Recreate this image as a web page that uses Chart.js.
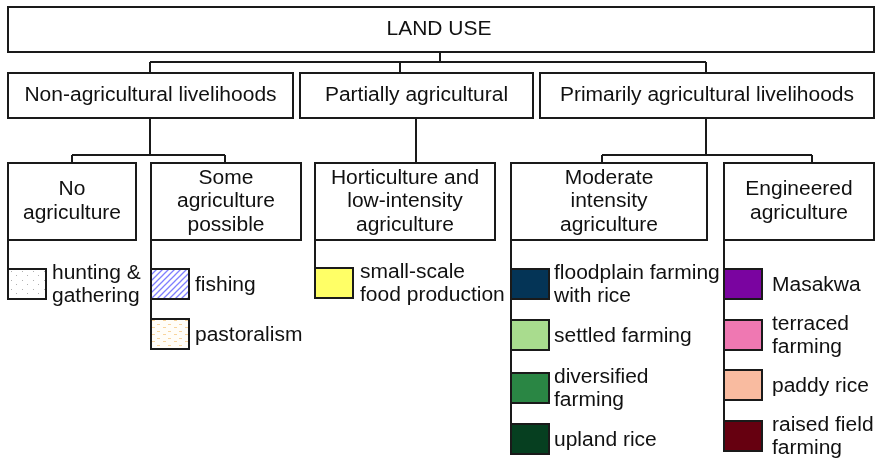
<!DOCTYPE html>
<html>
<head>
<meta charset="utf-8">
<script src="https://cdn.jsdelivr.net/npm/chart.js@4/dist/chart.umd.min.js"></script>
<style>
html,body{margin:0;padding:0;background:#fff;}
#wrap{width:876px;height:461px;}
</style>
</head>
<body>
<div id="wrap"><canvas id="c" width="876" height="461"></canvas></div>
<script>
// ---------- DATA ----------
const rootLabel = ['LAND USE'];
const groupLabels = ['Non-agricultural livelihoods', 'Partially agricultural', 'Primarily agricultural livelihoods'];
const subgroupLabels = [
  ['No', 'agriculture'],
  ['Some', 'agriculture', 'possible'],
  ['Horticulture and', 'low-intensity', 'agriculture'],
  ['Moderate', 'intensity', 'agriculture'],
  ['Engineered', 'agriculture']
];
const subgroupParent = [0, 0, 1, 2, 2];
const leafLabels = [
  [['hunting &', 'gathering']],
  [['fishing'], ['pastoralism']],
  [['small-scale', 'food production']],
  [['floodplain farming', 'with rice'], ['settled farming'], ['diversified', 'farming'], ['upland rice']],
  [['Masakwa'], ['terraced', 'farming'], ['paddy rice'], ['raised field', 'farming']]
];
const leafFills = [
  ['dots'],
  ['stripes', 'dashes'],
  ['#ffff66'],
  ['#043456', '#a9dc8e', '#2a8644', '#063f20'],
  ['#7a04a0', '#ef78b2', '#f9bba0', '#660010']
];

// ---------- LAYOUT (diagram coordinates) ----------
const LAYOUT = {
  root: { x0: 8, y0: 7, x1: 874, y1: 52 },
  rootStemX: 440,
  rootStemY: 62,
  rootDrops: [150, 400, 706],
  l2: { y0: 73, y1: 118, xs: [[8, 293], [300, 533], [540, 874]] },
  l2Stems: [150, 416, 706],
  l3Drops: [[72, 225], [416], [602, 812]],
  l2BarY: 155,
  l3: { y0: 163, y1: 240, xs: [[8, 136], [151, 301], [315, 495], [511, 707], [724, 874]] },
  swatchW: 38, swatchH: 30,
  swatchTops: [[269], [269, 319], [268], [269, 320, 373, 424], [269, 320, 370, 421]],
  textGap: [6, 6, 7, 5, 10],
  lineH: 23.5
};
const FONT_PX = 20, FONT_SX = 1.05;
const INK = '#1a1a1a';

function makePattern(kind) {
  const t = document.createElement('canvas');
  const g = t.getContext('2d');
  if (kind === 'dots') {
    t.width = 11; t.height = 9;
    g.fillStyle = '#fff'; g.fillRect(0, 0, 11, 9);
    g.fillStyle = '#b0b0b0';
    g.fillRect(3, 2, 1, 1); g.fillRect(8, 6, 1, 1);
  } else if (kind === 'stripes') {
    t.width = 6; t.height = 6;
    g.fillStyle = '#fff'; g.fillRect(0, 0, 6, 6);
    g.strokeStyle = '#7f7fff'; g.lineWidth = 1.3;
    g.beginPath();
    g.moveTo(-1, 7); g.lineTo(7, -1);
    g.moveTo(-4, 4); g.lineTo(4, -4);
    g.moveTo(2, 10); g.lineTo(10, 2);
    g.stroke();
  } else {
    t.width = 11; t.height = 7;
    g.fillStyle = '#fffdf8'; g.fillRect(0, 0, 11, 7);
    g.fillStyle = '#f8d49c';
    g.fillRect(1, 1, 3, 1); g.fillRect(6, 5, 3, 1);
  }
  return t;
}

const diagramPlugin = {
  id: 'diagram',
  afterDraw(chart) {
    const ctx = chart.ctx;
    const X = v => chart.scales.x.getPixelForValue(v);
    const Y = v => chart.scales.y.getPixelForValue(v);
    ctx.save();
    ctx.lineWidth = 2;
    ctx.strokeStyle = INK;
    ctx.font = FONT_PX + 'px "Liberation Sans", Arial, sans-serif';
    ctx.textBaseline = 'middle';

    const box = (x0, y0, x1, y1) => {
      ctx.fillStyle = '#fff';
      ctx.fillRect(X(x0), Y(y0), X(x1) - X(x0), Y(y1) - Y(y0));
      ctx.strokeStyle = INK;
      ctx.strokeRect(X(x0), Y(y0), X(x1) - X(x0), Y(y1) - Y(y0));
    };
    const line = (x0, y0, x1, y1) => {
      ctx.strokeStyle = INK;
      ctx.beginPath(); ctx.moveTo(X(x0), Y(y0)); ctx.lineTo(X(x1), Y(y1)); ctx.stroke();
    };
    const text = (lines, x, yc, align) => {
      ctx.fillStyle = '#111';
      const n = lines.length;
      lines.forEach((s, i) => {
        const y = yc + (i - (n - 1) / 2) * LAYOUT.lineH;
        ctx.save();
        ctx.translate(X(x), Y(y));
        ctx.scale(FONT_SX, 1);
        ctx.textAlign = align;
        ctx.fillText(s, 0, 0);
        ctx.restore();
      });
    };

    // connectors level 1 -> 2
    const r = LAYOUT.root;
    line(LAYOUT.rootStemX, r.y1, LAYOUT.rootStemX, LAYOUT.rootStemY);
    line(Math.min(...LAYOUT.rootDrops), LAYOUT.rootStemY, Math.max(...LAYOUT.rootDrops), LAYOUT.rootStemY);
    LAYOUT.rootDrops.forEach(x => line(x, LAYOUT.rootStemY, x, LAYOUT.l2.y0));

    // connectors level 2 -> 3
    groupLabels.forEach((g, gi) => {
      const drops = LAYOUT.l3Drops[gi];
      const sx = LAYOUT.l2Stems[gi];
      if (drops.length === 1) {
        line(sx, LAYOUT.l2.y1, sx, LAYOUT.l3.y0);
      } else {
        line(sx, LAYOUT.l2.y1, sx, LAYOUT.l2BarY);
        line(Math.min(...drops), LAYOUT.l2BarY, Math.max(...drops), LAYOUT.l2BarY);
        drops.forEach(cx => line(cx, LAYOUT.l2BarY, cx, LAYOUT.l3.y0));
      }
    });

    // leaf stems
    LAYOUT.l3.xs.forEach((xs, i) => {
      const tops = LAYOUT.swatchTops[i];
      line(xs[0], LAYOUT.l3.y1, xs[0], tops[tops.length - 1] + LAYOUT.swatchH);
    });

    // boxes
    box(r.x0, r.y0, r.x1, r.y1);
    text(rootLabel, 439, (r.y0 + r.y1) / 2, 'center');
    groupLabels.forEach((g, i) => {
      const [x0, x1] = LAYOUT.l2.xs[i];
      box(x0, LAYOUT.l2.y0, x1, LAYOUT.l2.y1);
      text([g], (x0 + x1) / 2, (LAYOUT.l2.y0 + LAYOUT.l2.y1) / 2, 'center');
    });
    subgroupLabels.forEach((lines, i) => {
      const [x0, x1] = LAYOUT.l3.xs[i];
      box(x0, LAYOUT.l3.y0, x1, LAYOUT.l3.y1);
      text(lines, (x0 + x1) / 2, (LAYOUT.l3.y0 + LAYOUT.l3.y1) / 2, 'center');
    });

    // leaves
    leafLabels.forEach((leaves, gi) => {
      const x0 = LAYOUT.l3.xs[gi][0];
      leaves.forEach((lines, li) => {
        const top = LAYOUT.swatchTops[gi][li];
        const fill = leafFills[gi][li];
        const px = X(x0), py = Y(top), w = LAYOUT.swatchW, h = LAYOUT.swatchH;
        ctx.fillStyle = fill.startsWith('#') ? fill : ctx.createPattern(makePattern(fill), 'repeat');
        ctx.save();
        ctx.translate(px, py);
        ctx.fillRect(0, 0, w, h);
        ctx.restore();
        ctx.strokeStyle = INK;
        ctx.strokeRect(px, py, w, h);
        text(lines, x0 + w + LAYOUT.textGap[gi], top + h / 2 + 1, 'left');
      });
    });
    ctx.restore();
  }
};

new Chart(document.getElementById('c'), {
  type: 'scatter',
  data: { datasets: [{ data: [], showLine: false }] },
  options: {
    responsive: false,
    animation: false,
    layout: { padding: 0 },
    scales: {
      x: { type: 'linear', min: 0, max: 876, display: false },
      y: { type: 'linear', min: 0, max: 461, reverse: true, display: false }
    },
    plugins: { legend: { display: false }, tooltip: { enabled: false } }
  },
  plugins: [diagramPlugin]
});
</script>
</body>
</html>
